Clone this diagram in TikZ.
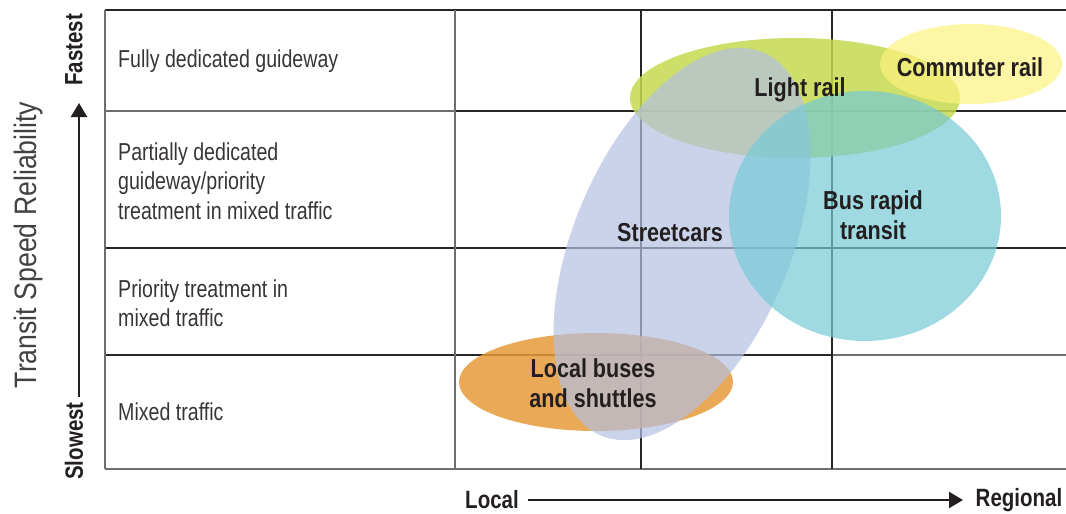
\documentclass[tikz,border=0pt]{standalone}
\usepackage{fontspec}
\setmainfont{Liberation Sans}[FakeStretch=0.80]
\newfontfamily\blobfont{Liberation Sans}[FakeStretch=0.83]
\newfontfamily\axisfont{Liberation Sans}[FakeStretch=0.82]
\newfontfamily\titlefont{Liberation Sans}[FakeStretch=0.86]
\usetikzlibrary{arrows.meta}
\definecolor{ink}{HTML}{231F20}
\definecolor{gridgray}{HTML}{6E6E6E}
\definecolor{griddark}{HTML}{262626}
\definecolor{lightrailc}{RGB}{196,217,77}
\definecolor{commuterc}{RGB}{252,242,125}
\definecolor{brtc}{RGB}{118,202,214}
\definecolor{streetc}{RGB}{181,192,226}
\definecolor{busc}{RGB}{229,154,57}
\begin{document}
\begin{tikzpicture}[x=1pt,y=-1pt,
  gridg/.style={draw=gridgray, line width=1.3pt},
  gridd/.style={draw=griddark, line width=1.6pt},
  rowlabel/.style={anchor=west, align=left, font=\fontsize{24.5}{29.5}\selectfont, text=ink!90, inner sep=0pt},
  blob/.style={font=\blobfont\bfseries\fontsize{26}{30}\selectfont, text=ink, align=center, inner sep=0pt},
  axislabel/.style={font=\axisfont\bfseries\fontsize{25}{30}\selectfont, text=ink, inner sep=0pt},
  axisarrow/.style={line width=2.4pt, draw=ink, -{Triangle[length=14pt,width=16pt]}},
  ovalA/.style={fill opacity=0.85},
  ovalB/.style={fill opacity=0.7}]
\useasboundingbox (0,0) rectangle (1066,514);
% grid
\draw[gridd] (105,10) -- (1066,10);
\draw[gridg] (105,111) -- (455,111);
\draw[gridd] (455,111) -- (1066,111);
\draw[gridd] (105,248) -- (1066,248);
\draw[gridd] (105,355) -- (832,355);
\draw[gridg] (832,355) -- (1066,355);
\draw[gridg] (105,469) -- (1066,469);
\draw[gridg] (105,10) -- (105,469);
\draw[gridg] (455,10) -- (455,469);
\draw[gridd] (641,10) -- (641,469);
\draw[gridd] (832,10) -- (832,469);
% ovals
\fill[busc, ovalA] (596,382) ellipse [x radius=137, y radius=49];
\fill[lightrailc, ovalA] (795,98) ellipse [x radius=165, y radius=60];
\fill[streetc, ovalB, rotate around={67:(682,244)}] (682,244) ellipse [x radius=208, y radius=108];
\fill[brtc, ovalB] (865,216) ellipse [x radius=136, y radius=125];
\fill[commuterc, ovalB] (971,64) ellipse [x radius=91, y radius=40];
% oval labels
\node[blob] (lightrail) at (800,90) {Light rail};
\node[blob] (commuter) at (970,67) {Commuter rail};
\node[blob] (brt) at (873,215) {Bus rapid\\transit};
\node[blob] (streetcars) at (670,233) {Streetcars};
\node[blob] (localbus) at (593,383) {Local buses\\and shuttles};
% row labels
\node[rowlabel] (r1) at (118,61) {Fully dedicated guideway};
\node[rowlabel] (r2) at (118,181) {Partially dedicated\\guideway/priority\\treatment in mixed traffic};
\node[rowlabel] (r3) at (118,303) {Priority treatment in\\mixed traffic};
\node[rowlabel] (r4) at (118,412) {Mixed traffic};
% vertical axis
\node[rotate=90, font=\titlefont\fontsize{31}{36}\selectfont, text=ink!85, inner sep=0pt] (yaxis) at (28,245) {Transit Speed Reliability};
\node[axislabel, rotate=90] (fastest) at (74,50) {Fastest};
\node[axislabel, rotate=90] (slowest) at (74,441) {Slowest};
\coordinate (vstart) at (79,397);
\coordinate (vend) at (79,103);
\draw[axisarrow] (vstart) -- (vend);
% horizontal axis
\node[axislabel] (local) at (492,500) {Local};
\node[axislabel] (regional) at (1019,500) {Regional};
\coordinate (hstart) at (528,500);
\coordinate (hend) at (963,500);
\draw[axisarrow] (hstart) -- (hend);
\end{tikzpicture}
\end{document}
